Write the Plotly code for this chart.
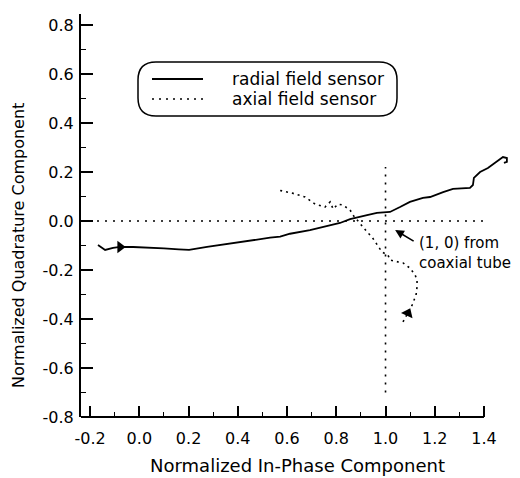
import plotly.graph_objects as go

# ---- data ----
radial_x = [-0.168, -0.139, -0.107, -0.078, -0.025, 0.031, 0.10, 0.16, 0.202, 0.275, 0.34,
            0.405, 0.46, 0.531, 0.572, 0.612, 0.693, 0.775, 0.815, 0.856, 0.896, 0.925,
            0.965, 1.018, 1.059, 1.099, 1.152, 1.181, 1.234, 1.274, 1.343, 1.355, 1.359,
            1.384, 1.416, 1.445, 1.477, 1.493, 1.493, 1.481]
radial_y = [-0.098, -0.118, -0.110, -0.106, -0.106, -0.110, -0.112, -0.116, -0.118, -0.106, -0.096,
            -0.086, -0.078, -0.068, -0.064, -0.052, -0.037, -0.016, -0.008, 0.008, 0.016, 0.024,
            0.033, 0.037, 0.057, 0.078, 0.094, 0.098, 0.118, 0.131, 0.135, 0.147, 0.176,
            0.200, 0.216, 0.237, 0.261, 0.257, 0.241, 0.237]

axial_x = [1.071, 1.091, 1.108, 1.124, 1.128, 1.128, 1.120, 1.099, 1.071, 1.051, 1.018, 1.010,
           0.986, 0.945, 0.929, 0.868, 0.856, 0.827, 0.807, 0.787, 0.775, 0.754, 0.714, 0.673,
           0.620, 0.563]
axial_y = [-0.412, -0.376, -0.343, -0.302, -0.269, -0.241, -0.220, -0.192, -0.171, -0.167, -0.159, -0.139,
           -0.127, -0.065, -0.049, 0.024, 0.045, 0.065, 0.069, 0.049, 0.078, 0.057, 0.069, 0.098,
           0.114, 0.127]

# reference lines through the coaxial-tube point (1, 0)
ref_h_x = [-0.237, 1.40]
ref_h_y = [0.0, 0.0]
ref_v_x = [1.0, 1.0]
ref_v_y = [-0.70, 0.22]

# arrow markers showing direction along each curve
radial_arrow = (-0.078, -0.106)
axial_arrow = (1.091, -0.376)
coax_point = (1.039, -0.037)

x_tickvals = [-0.2, 0.0, 0.2, 0.4, 0.6, 0.8, 1.0, 1.2, 1.4]
x_ticktext = ["-0.2", "0.0", "0.2", "0.4", "0.6", "0.8", "1.0", "1.2", "1.4"]
x_minorvals = [-0.1, 0.1, 0.3, 0.5, 0.7, 0.9, 1.1, 1.3]
y_tickvals = [-0.8, -0.6, -0.4, -0.2, 0.0, 0.2, 0.4, 0.6, 0.8]
y_ticktext = ["-0.8", "-0.6", "-0.4", "-0.2", "0.0", "0.2", "0.4", "0.6", "0.8"]
y_minorvals = [-0.7, -0.5, -0.3, -0.1, 0.1, 0.3, 0.5, 0.7]

legend_labels = ["radial field sensor", "axial field sensor"]

# ---- layout geometry ----
W, H = 520, 478
ML, MR, MT, MB = 81, 4, 14, 61
XR = [-0.237, 1.53]
YR = [-0.8, 0.845]
PW, PH = W - ML - MR, H - MT - MB
FONT = "DejaVu Sans"


def px(x):
    return (x - ML) / PW


def py(y):
    return (MT + PH - y) / PH


fig = go.Figure()

fig.add_trace(go.Scatter(x=ref_h_x, y=ref_h_y, mode="lines",
                         line=dict(color="black", width=1.6, dash="2px,6px"), hoverinfo="skip"))
fig.add_trace(go.Scatter(x=ref_v_x, y=ref_v_y, mode="lines",
                         line=dict(color="black", width=1.6, dash="2px,6px"), hoverinfo="skip"))
fig.add_trace(go.Scatter(x=radial_x, y=radial_y, mode="lines", name=legend_labels[0],
                         line=dict(color="black", width=1.8)))
fig.add_trace(go.Scatter(x=axial_x, y=axial_y, mode="lines", name=legend_labels[1],
                         line=dict(color="black", width=1.6, dash="2px,4px")))
fig.add_trace(go.Scatter(x=[radial_arrow[0]], y=[radial_arrow[1]], mode="markers",
                         marker=dict(symbol="triangle-right", size=11, color="black"),
                         hoverinfo="skip"))
fig.add_trace(go.Scatter(x=[axial_arrow[0]], y=[axial_arrow[1]], mode="markers",
                         marker=dict(symbol="triangle-up", size=11, color="black", angle=25),
                         hoverinfo="skip"))

# x axis line drawn only up to 1.4
fig.add_shape(type="line", xref="x", yref="paper", x0=XR[0], x1=1.4, y0=0, y1=0,
              line=dict(color="black", width=2))

# legend box (rounded)
bx0, bx1, by0, by1, r = 138, 397, 62, 116, 18
path = (f"M {px(bx0 + r)} {py(by0)} L {px(bx1 - r)} {py(by0)} "
        f"Q {px(bx1)} {py(by0)} {px(bx1)} {py(by0 + r)} "
        f"L {px(bx1)} {py(by1 - r)} "
        f"Q {px(bx1)} {py(by1)} {px(bx1 - r)} {py(by1)} "
        f"L {px(bx0 + r)} {py(by1)} "
        f"Q {px(bx0)} {py(by1)} {px(bx0)} {py(by1 - r)} "
        f"L {px(bx0)} {py(by0 + r)} "
        f"Q {px(bx0)} {py(by0)} {px(bx0 + r)} {py(by0)} Z")
fig.add_shape(type="path", xref="paper", yref="paper", path=path,
              line=dict(color="black", width=1.5))
fig.add_shape(type="line", xref="paper", yref="paper", x0=px(152), x1=px(203),
              y0=py(79), y1=py(79), line=dict(color="black", width=1.8))
fig.add_shape(type="line", xref="paper", yref="paper", x0=px(152), x1=px(203),
              y0=py(99), y1=py(99), line=dict(color="black", width=1.6, dash="2px,5px"))
for lbl, yy in zip(legend_labels, [79, 99]):
    fig.add_annotation(xref="paper", yref="paper", x=px(230), y=py(yy), text=lbl,
                       showarrow=False, xanchor="left", yanchor="middle",
                       font=dict(family=FONT, size=17, color="black"))

# annotation for (1, 0)
fig.add_annotation(x=coax_point[0], y=coax_point[1], xref="x", yref="y", text="",
                   showarrow=True, ax=20, ay=12, arrowhead=2, arrowsize=1.1,
                   arrowwidth=1.6, arrowcolor="black")
fig.add_annotation(x=1.128, y=-0.131, xref="x", yref="y",
                   text="(1, 0) from<br>coaxial tube", showarrow=False,
                   xanchor="left", yanchor="middle", align="left",
                   font=dict(family=FONT, size=15, color="black"))

# axis titles
fig.add_annotation(xref="paper", yref="paper", x=px(297), y=py(466),
                   text="Normalized In-Phase Component", showarrow=False,
                   xanchor="center", yanchor="middle",
                   font=dict(family=FONT, size=18, color="black"))
fig.add_annotation(xref="paper", yref="paper", x=px(18), y=py(246),
                   text="Normalized Quadrature Component", showarrow=False, textangle=-90,
                   xanchor="center", yanchor="middle",
                   font=dict(family=FONT, size=16, color="black"))

fig.update_xaxes(range=XR, showline=False, zeroline=False, showgrid=False, automargin=False,
                 tickmode="array", tickvals=x_tickvals, ticktext=x_ticktext,
                 ticks="inside", ticklen=11, tickwidth=1.5, tickcolor="black",
                 ticklabelstandoff=10,
                 minor=dict(tickmode="array", tickvals=x_minorvals, ticks="inside",
                            ticklen=5, tickwidth=1.2, tickcolor="black", showgrid=False),
                 tickfont=dict(family=FONT, size=16, color="black"))
fig.update_yaxes(range=YR, showline=True, linecolor="black", linewidth=2, zeroline=False,
                 showgrid=False, automargin=False,
                 tickmode="array", tickvals=y_tickvals, ticktext=y_ticktext,
                 ticks="inside", ticklen=12, tickwidth=1.5, tickcolor="black",
                 ticklabelstandoff=2,
                 minor=dict(tickmode="array", tickvals=y_minorvals, ticks="inside",
                            ticklen=5, tickwidth=1.2, tickcolor="black", showgrid=False),
                 tickfont=dict(family=FONT, size=16, color="black"))

fig.update_layout(width=W, height=H, margin=dict(l=ML, r=MR, t=MT, b=MB, autoexpand=False),
                  paper_bgcolor="white", plot_bgcolor="white", showlegend=False,
                  font=dict(family=FONT, color="black"))

fig.write_html("out.html", config={"displayModeBar": False},
               post_script="document.body.style.margin='0';document.body.style.overflow='hidden';")
